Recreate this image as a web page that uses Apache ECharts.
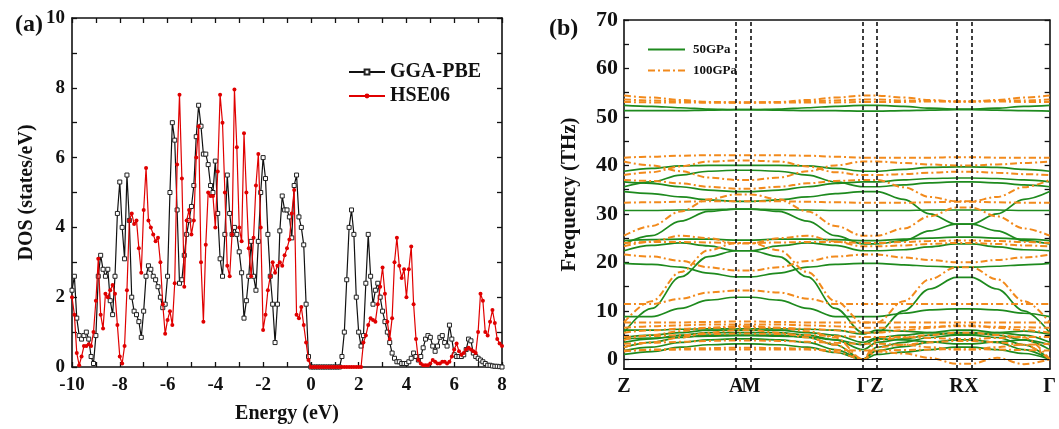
<!DOCTYPE html>
<html><head><meta charset="utf-8">
<script src="https://cdn.jsdelivr.net/npm/echarts@6/dist/echarts.min.js"></script>
<style>html,body{margin:0;padding:0;background:#fff}#c{width:1059px;height:429px}</style>
</head><body><div id="c"></div>
<script>
// ---------- Panel (a): DOS, energy grid -10..8 eV, step 0.1 ----------
const energyStart = -10, energyStep = 0.1;
const energyTicks = [-10,-9,-8,-7,-6,-5,-4,-3,-2,-1,0,1,2,3,4,5,6,7,8];
const energyLabels = [-10,-8,-6,-4,-2,0,2,4,6,8];
const dosTicks = [0,1,2,3,4,5,6,7,8,9,10];
const dosLabels = [0,2,4,6,8,10];
const dosPBE = [
 2.2,2.6,1.4,0.9,0.8,0.9,1.0,0.8,0.3,0.1,
 0.9,2.6,3.2,2.8,2.6,2.8,1.9,1.5,2.6,4.4,
 5.3,4.0,3.1,5.5,4.2,2.0,1.6,1.5,1.3,0.85,
 1.6,2.6,2.9,2.8,2.6,2.5,2.3,2.0,1.7,1.8,
 2.6,5.0,7.0,6.5,4.5,2.4,2.5,3.2,3.8,4.2,
 4.6,5.2,6.6,7.5,6.9,6.1,6.1,5.8,5.2,5.0,
 5.9,4.4,3.1,2.6,3.8,5.5,4.4,3.8,4.0,3.8,
 3.3,2.7,1.4,1.9,2.6,3.6,2.6,2.2,3.6,5.0,
 6.0,5.4,3.8,2.6,1.8,0.7,1.8,3.9,4.9,4.5,
 4.5,4.3,3.7,5.2,5.5,4.3,4.0,3.5,1.8,0.3,
 0,0,0,0,0,0,0,0,0,0,
 0,0,0,0.3,1.0,2.5,4.0,4.5,3.8,2.0,
 1.0,0.6,0.9,2.4,3.8,2.6,1.8,2.2,2.4,2.0,
 1.6,1.3,1.0,0.7,0.4,0.25,0.15,0.15,0.1,0.1,
 0.1,0.15,0.25,0.4,0.3,0.2,0.3,0.55,0.8,0.9,
 0.85,0.6,0.45,0.6,0.85,0.9,0.7,0.6,1.2,0.8,
 0.35,0.3,0.3,0.3,0.35,0.5,0.8,0.75,0.4,0.3,
 0.25,0.2,0.15,0.1,0.05,0.05,0.03,0.02,0.02,0.01,
 0
];
const dosHSE = [
 2.0,1.5,0.4,0.05,0.3,0.6,0.6,0.65,0.6,1.0,
 1.9,3.1,1.5,1.1,2.1,2.0,2.2,2.35,2.1,1.2,
 0.3,0.1,0.6,2.2,4.2,4.4,4.1,4.2,3.4,2.7,
 4.5,5.7,4.2,4.0,3.8,3.6,3.7,3.0,1.8,0.95,
 1.35,1.6,1.2,2.4,5.8,7.8,5.4,2.3,4.2,4.5,
 3.8,4.2,6.0,6.9,3.0,1.3,3.5,5.0,4.9,4.9,
 4.0,5.6,7.8,7.0,5.0,2.9,2.6,3.8,7.95,6.3,
 4.0,3.6,6.7,5.0,3.4,2.6,3.7,5.2,6.1,4.0,
 1.06,1.5,2.2,2.6,3.0,2.7,2.9,3.0,2.9,3.2,
 3.4,3.65,4.4,5.07,1.5,1.4,1.72,1.2,0.7,0.2,
 0,0,0,0,0,0,0,0,0,0,
 0,0,0,0,0,0,0,0,0,0,
 0,0,0.7,0.9,1.2,1.4,1.35,1.3,1.8,2.3,
 2.85,2.1,1.3,0.8,1.4,3.0,3.7,2.9,2.55,2.8,
 2.0,2.8,3.45,1.8,0.8,0.2,0.1,0.05,0.05,0.05,
 0.1,0.2,0.15,0.1,0.1,0.15,0.15,0.1,0.15,0.3,
 0.5,0.67,0.45,0.35,0.4,0.5,0.55,0.5,0.45,0.4,
 1.0,2.1,1.9,1.0,0.9,1.3,1.63,1.26,0.8,0.67,
 0.6
];

// ---------- Panel (b): phonon bands along Z-A-M-Γ-Z-R-X-Γ ----------
const kPos = [0,28,57,85,113, 128,156,185,213,241, 255,282,308,335, 350,376,403,429];
const kTickPos = [0,113,128,241,255,335,350,429];
const kTickLabels = ['Z','A','M','Γ','Z','R','X','Γ'];
const kLines = [113,128,241,255,335,350];
const freqTicks = [0,5,10,15,20,25,30,35,40,45,50,55,60,65,70];
const freqLabels = [0,10,20,30,40,50,60,70];
const bands50 = [
 [52.4,52.2,51.9,51.6,51.5, 51.5,51.6,51.9,52.2,52.4, 52.4,52.2,51.8,51.6, 51.6,51.8,52.2,52.4],
 [51.3,51.3,51.3,51.4,51.5, 51.5,51.4,51.3,51.3,51.2, 51.2,51.3,51.4,51.5, 51.5,51.4,51.3,51.2],
 [38.8,39.4,39.9,40.0,40.0, 40.0,40.0,39.9,39.4,38.8, 38.8,39.2,39.6,39.7, 39.7,39.6,39.2,38.8],
 [36.6,36.3,35.6,34.9,34.6, 34.6,34.9,35.6,36.3,36.6, 36.6,37.0,37.3,37.4, 37.4,37.3,37.0,36.6],
 [35.6,36.6,38.0,38.8,39.0, 39.0,38.8,38.0,36.6,35.6, 35.6,36.0,36.4,36.6, 36.6,36.4,36.0,35.6],
 [34.6,34.2,33.5,32.9,32.6, 32.6,32.9,33.5,34.2,34.6, 34.6,33.0,30.0,27.9, 27.9,30.0,33.0,34.6],
 [30.7,30.7,30.8,30.9,31.0, 31.0,30.9,30.8,30.7,30.7, 30.7,30.7,30.8,30.8, 30.8,30.8,30.7,30.7],
 [23.8,25.5,28.5,30.5,31.0, 31.0,30.5,28.5,25.5,23.8, 23.8,24.5,26.5,27.9, 27.9,26.5,24.5,23.8],
 [24.5,24.7,24.8,24.8,24.6, 24.6,24.8,24.8,24.7,24.5, 24.5,24.8,25.0,25.2, 25.2,25.0,24.8,24.5],
 [22.4,23.5,24.0,23.4,22.4, 22.4,23.4,24.0,23.5,22.4, 22.4,22.6,23.2,23.8, 23.8,23.2,22.6,22.4],
 [19.8,19.6,19.0,17.8,17.0, 17.0,17.8,19.0,19.6,19.8, 19.8,19.5,19.2,19.0, 19.0,19.2,19.5,19.8],
 [5.5,10.5,17.0,21.2,22.4, 22.4,21.2,17.0,10.5,5.5, 5.5,10.0,14.5,16.9, 16.9,14.5,10.0,5.5],
 [8.8,8.8,10.5,12.2,12.8, 12.8,12.2,10.5,8.8,8.8, 8.8,9.5,10.2,10.4, 10.4,10.2,9.5,8.8],
 [1.0,1.6,2.5,3.0,3.2, 3.2,3.0,2.5,1.4,0.0, 1.0,1.5,2.0,2.5, 2.5,2.0,1.2,0.0],
 [1.8,2.5,3.5,4.0,4.2, 4.2,4.0,3.5,2.0,0.0, 1.8,2.6,3.5,4.0, 4.0,3.5,2.0,0.0],
 [2.5,3.5,4.5,5.0,5.0, 5.0,5.0,4.5,3.0,0.0, 2.5,3.5,4.5,5.0, 5.0,4.5,3.0,0.0],
 [3.5,4.2,5.0,5.5,5.5, 5.5,5.5,5.0,4.0,2.0, 3.5,4.2,5.0,5.5, 5.5,5.0,4.0,2.0],
 [4.5,5.0,5.5,6.0,6.0, 6.0,6.0,5.5,5.0,3.5, 4.5,5.0,5.5,6.0, 6.0,5.5,5.0,3.5],
 [6.0,6.0,6.2,6.3,6.3, 6.3,6.3,6.2,6.0,5.2, 6.0,5.8,5.5,5.2, 5.2,5.5,5.8,5.2],
 [4.2,4.4,4.6,4.8,4.9, 4.9,4.8,4.6,4.0,3.0, 4.2,4.0,3.6,3.2, 3.2,3.6,4.0,3.0]
];
const bands100 = [
 [54.4,54.0,53.5,53.1,53.0, 53.0,53.1,53.5,54.0,54.4, 54.4,54.0,53.5,53.2, 53.2,53.5,54.0,54.4],
 [53.6,53.4,53.2,53.0,53.0, 53.0,53.0,53.2,53.4,53.6, 53.6,53.4,53.3,53.2, 53.2,53.3,53.4,53.6],
 [53.1,53.0,53.0,53.0,53.0, 53.0,53.0,53.0,53.0,53.1, 53.1,53.1,53.2,53.2, 53.2,53.2,53.1,53.1],
 [41.6,41.8,42.0,42.1,42.1, 42.1,42.1,42.0,41.8,41.6, 41.6,41.6,41.6,41.7, 41.7,41.6,41.6,41.6],
 [40.8,40.0,38.8,37.5,37.0, 37.0,37.5,38.8,40.0,40.8, 40.8,40.5,40.2,40.0, 40.0,40.2,40.5,40.8],
 [38.0,38.6,39.8,40.8,41.0, 41.0,40.8,39.8,38.6,38.0, 38.0,38.2,38.5,38.7, 38.7,38.5,38.2,38.0],
 [37.0,36.8,36.3,35.6,35.2, 35.2,35.6,36.3,36.8,37.0, 37.0,35.5,33.5,32.6, 32.6,33.5,35.5,37.0],
 [32.3,32.4,32.5,32.6,32.6, 32.6,32.6,32.5,32.4,32.3, 32.3,32.3,32.4,32.5, 32.5,32.4,32.3,32.3],
 [25.5,27.5,30.5,33.0,34.0, 34.0,33.0,30.5,27.5,25.5, 25.5,27.0,29.5,31.3, 31.3,29.5,27.0,25.5],
 [24.0,24.2,24.2,24.1,24.0, 24.0,24.1,24.2,24.2,24.0, 24.0,24.2,24.4,24.5, 24.5,24.4,24.2,24.0],
 [23.3,24.3,25.5,25.0,23.9, 23.9,25.0,25.5,24.3,23.3, 23.3,23.5,23.8,24.0, 24.0,23.8,23.5,23.3],
 [21.6,21.2,20.3,19.0,18.3, 18.3,19.0,20.3,21.2,21.6, 21.6,21.0,20.5,20.0, 20.0,20.5,21.0,21.6],
 [7.6,12.0,18.0,22.5,24.0, 24.0,22.5,18.0,12.0,7.6, 7.6,12.0,16.5,19.0, 19.0,16.5,12.0,7.6],
 [11.4,11.4,12.5,13.8,14.2, 14.2,13.8,12.5,11.4,11.4, 11.4,11.4,11.4,11.4, 11.4,11.4,11.4,11.4],
 [7.6,7.6,7.6,7.7,7.8, 7.8,7.7,7.6,7.6,7.6, 7.6,7.6,7.6,7.6, 7.6,7.6,7.6,7.6],
 [1.6,2.0,2.2,2.3,2.4, 2.4,2.3,2.2,1.5,0.0, 1.6,1.2,0.3,-0.9, -0.9,0.3,-1.0,0.0],
 [2.5,3.5,4.5,5.5,6.0, 6.0,5.5,4.5,3.0,0.0, 2.5,3.0,3.5,3.8, 3.8,3.5,3.0,0.0],
 [4.0,5.0,5.8,6.5,6.8, 6.8,6.5,5.8,4.5,0.0, 4.0,4.5,5.0,5.5, 5.5,5.0,4.5,0.0],
 [5.5,6.0,6.3,6.5,6.5, 6.5,6.5,6.3,6.0,5.5, 5.5,6.0,6.5,7.0, 7.0,6.5,6.0,5.5],
 [6.5,6.8,7.0,7.2,7.2, 7.2,7.2,7.0,6.8,6.5, 6.5,6.6,6.7,6.8, 6.8,6.7,6.6,6.5],
 [3.2,3.4,3.6,3.8,3.9, 3.9,3.8,3.6,3.4,3.2, 3.2,3.0,2.5,2.0, 2.0,2.5,3.0,3.2],
 [4.6,4.8,5.0,5.2,5.3, 5.3,5.2,5.0,4.8,4.6, 4.6,4.6,4.4,4.2, 4.2,4.4,4.6,4.6],
 [1.8,1.9,2.0,2.0,2.0, 2.0,2.0,2.0,1.9,1.8, 1.8,1.9,2.0,2.1, 2.1,2.0,1.9,1.8]
];

// ---------- build chart ----------
const serif = "'Liberation Serif','DejaVu Serif',serif";
const ink = '#111';
const green = '#1e8a1e', orange = '#f28a1c';
const energies = dosPBE.map((_, i) => Math.round((energyStart + i * energyStep) * 10) / 10);
const txt = (size) => ({fontFamily: serif, fontWeight: 'bold', fontSize: size, color: ink});
const axLine = {show: true, onZero: false, lineStyle: {color: ink, width: 1.6}};

const series = [
 {name: 'GGA-PBE', type: 'line', xAxisIndex: 0, yAxisIndex: 0,
  data: dosPBE.map((v, i) => [energies[i], v]),
  symbol: 'rect', symbolSize: 4, showSymbol: true, showAllSymbol: true,
  lineStyle: {color: '#111', width: 1.2},
  itemStyle: {color: '#fff', borderColor: '#222', borderWidth: 1}, z: 3},
 {name: 'HSE06', type: 'line', xAxisIndex: 0, yAxisIndex: 0,
  data: dosHSE.map((v, i) => [energies[i], v]),
  symbol: 'circle', symbolSize: 4, showSymbol: true, showAllSymbol: true,
  lineStyle: {color: '#e00000', width: 1.2},
  itemStyle: {color: '#e00000'}, z: 4}
];
bands50.forEach((b, j) => series.push({
 name: '50GPa', type: 'line', xAxisIndex: 2, yAxisIndex: 2, smooth: 0.35, smoothMonotone: 'x',
 data: kPos.map((x, i) => [x, b[i]]), showSymbol: false,
 lineStyle: {color: green, width: 1.7}, itemStyle: {color: green}, z: 2,
 markLine: j === 0 ? {symbol: 'none', silent: true, label: {show: false},
   data: kLines.map(x => ({xAxis: x, lineStyle: {color: ink, type: [4, 3], width: 1.6}}))
     .concat([{yAxis: 0, lineStyle: {color: ink, type: 'solid', width: 1}}])} : undefined
}));
bands100.forEach(b => series.push({
 name: '100GPa', type: 'line', xAxisIndex: 2, yAxisIndex: 2, smooth: 0.35, smoothMonotone: 'x',
 data: kPos.map((x, i) => [x, b[i]]), showSymbol: false,
 lineStyle: {color: orange, width: 2, type: [7, 3, 2, 3]}, itemStyle: {color: orange}, z: 3
}));

const hiddenMark = {opacity: 0, borderWidth: 0};
const option = {
 animation: false,
 backgroundColor: '#fff',
 title: [
  {text: '(a)', left: 10, top: 8, textStyle: txt(24)},
  {text: '(b)', left: 544, top: 12, textStyle: txt(24)}
 ],
 legend: [
  {left: 343, top: 57, orient: 'vertical', itemWidth: 36, itemHeight: 6, itemGap: 4,
   data: ['GGA-PBE', 'HSE06'], textStyle: txt(20)},
  {left: 642, top: 38, orient: 'vertical', itemWidth: 37, itemHeight: 10, itemGap: 8,
   data: [{name: '50GPa', itemStyle: hiddenMark}, {name: '100GPa', itemStyle: hiddenMark}],
   textStyle: Object.assign(txt(13), {padding: [0, 0, 0, 3]})}
 ],
 grid: [
  {left: 72, top: 18, width: 430, height: 349},
  {left: 624, top: 20, width: 429, height: 349}
 ],
 xAxis: [
  {gridIndex: 0, type: 'value', min: -10, max: 8, position: 'bottom', axisLine: axLine,
   axisTick: {inside: true, length: 5, customValues: energyTicks, lineStyle: {color: ink, width: 1.3}},
   axisLabel: {customValues: energyLabels, margin: 9, ...txt(19)}, splitLine: {show: false},
   name: 'Energy (eV)', nameLocation: 'middle', nameGap: 37, nameTextStyle: txt(20)},
  {gridIndex: 0, type: 'value', min: -10, max: 8, position: 'top', axisLine: axLine,
   axisTick: {inside: true, length: 5, customValues: energyTicks, lineStyle: {color: ink, width: 1.3}},
   axisLabel: {show: false}, splitLine: {show: false}},
  {gridIndex: 1, type: 'value', min: 0, max: 429, position: 'bottom',
   axisLine: {show: true, onZero: false, lineStyle: {color: ink, width: 2}},
   axisTick: {show: false},
   axisLabel: {customValues: kTickPos, margin: 8, formatter: v => kTickLabels[kTickPos.indexOf(v)] || '', ...txt(20)},
   splitLine: {show: false}},
  {gridIndex: 1, type: 'value', min: 0, max: 429, position: 'top', axisLine: axLine,
   axisTick: {show: false}, axisLabel: {show: false}, splitLine: {show: false}}
 ],
 yAxis: [
  {gridIndex: 0, type: 'value', min: 0, max: 10, position: 'left', axisLine: axLine,
   axisTick: {inside: true, length: 5, customValues: dosTicks, lineStyle: {color: ink, width: 1.3}},
   axisLabel: {customValues: dosLabels, margin: 7, ...txt(19)}, splitLine: {show: false},
   name: 'DOS (states/eV)', nameLocation: 'middle', nameGap: 35, nameTextStyle: txt(20)},
  {gridIndex: 0, type: 'value', min: 0, max: 10, position: 'right', axisLine: axLine,
   axisTick: {inside: true, length: 5, customValues: dosTicks, lineStyle: {color: ink, width: 1.3}},
   axisLabel: {show: false}, splitLine: {show: false}},
  {gridIndex: 1, type: 'value', min: -2, max: 70, position: 'left', axisLine: axLine,
   axisTick: {inside: true, length: 5, customValues: freqTicks, lineStyle: {color: ink, width: 1.3}},
   axisLabel: {customValues: freqLabels, margin: 6, ...txt(22)}, splitLine: {show: false},
   name: 'Frequency (THz)', nameLocation: 'middle', nameGap: 44, nameTextStyle: txt(21)},
  {gridIndex: 1, type: 'value', min: -2, max: 70, position: 'right', axisLine: axLine,
   axisTick: {inside: true, length: 5, customValues: freqTicks, lineStyle: {color: ink, width: 1.3}},
   axisLabel: {show: false}, splitLine: {show: false}}
 ],
 series
};
const chart = echarts.init(document.getElementById('c'), null, {renderer: 'canvas'});
chart.setOption(option);
</script>
</body></html>
